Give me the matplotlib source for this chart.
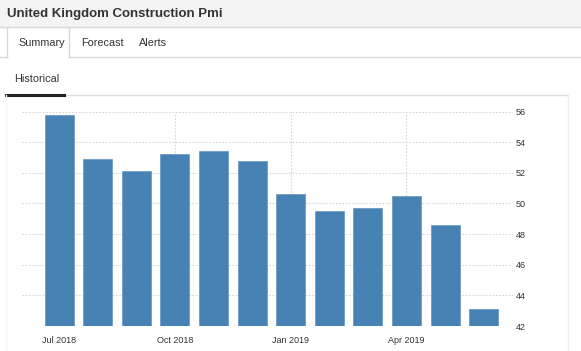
import matplotlib.pyplot as plt
from matplotlib.patches import Rectangle
from matplotlib.lines import Line2D

plt.rcParams['font.family'] = ['Liberation Sans', 'DejaVu Sans']

# UK construction PMI, Jul 2018 - Jun 2019
months = ['Jul 2018', 'Aug 2018', 'Sep 2018', 'Oct 2018', 'Nov 2018', 'Dec 2018',
          'Jan 2019', 'Feb 2019', 'Mar 2019', 'Apr 2019', 'May 2019', 'Jun 2019']
pmi = [55.8, 52.9, 52.1, 53.2, 53.4, 52.8, 50.6, 49.5, 49.7, 50.5, 48.6, 43.1]
yticks = [42, 44, 46, 48, 50, 52, 54, 56]
xlabel_idx = [0, 3, 6, 9]

W, H = 581, 351
fig = plt.figure(figsize=(W / 100, H / 100), dpi=100)

def px(x, y):
    return x / W, 1 - y / H

def hline(x0, x1, y, color, lw=1.0):
    fig.add_artist(Line2D([x0 / W, x1 / W], [1 - y / H, 1 - y / H], color=color, lw=lw))

def vline(x, y0, y1, color, lw=1.0):
    fig.add_artist(Line2D([x / W, x / W], [1 - y0 / H, 1 - y1 / H], color=color, lw=lw))

# header bar
fig.add_artist(Rectangle(px(0, 27), 1, 27 / H, color='#f4f4f4', zorder=0))
hline(0, W, 27, '#d8d8d8')
fig.text(*px(7, 13.5), 'United Kingdom Construction Pmi', fontsize=9.5, fontweight='bold',
         color='#333333', va='center', ha='left')

# tabs
hline(0, 7, 57, '#d8d8d8')
hline(69, W, 57, '#d8d8d8')
vline(7, 28, 57, '#d8d8d8')
vline(69, 28, 57, '#d8d8d8')
fig.text(*px(18, 43), 'Summary', fontsize=7.8, color='#333333', va='center')
fig.text(*px(81, 43), 'Forecast', fontsize=7.8, color='#333333', va='center')
fig.text(*px(139, 43), 'Alerts', fontsize=7.8, color='#333333', va='center')

# historical sub-tab
fig.text(*px(14, 79), 'Historical', fontsize=7.8, color='#333333', va='center')
hline(64, 568, 95, '#dddddd')
hline(6, 64, 95, '#222222', lw=2.2)
vline(568, 95, H, '#eeeeee')
vline(6, 95, H, '#f6f6f6')

# chart
ax = fig.add_axes([22 / W, 1 - 326 / H, (513 - 22) / W, (326 - 111.5) / H])
x = list(range(len(months)))
ax.bar(x, pmi, width=0.75, color='#4682b4', edgecolor='#6f9cc6', linewidth=0.6, zorder=2)
ax.set_ylim(42, 56)
ax.set_xlim(-0.96, 11.76)
ax.set_yticks(yticks)
ax.set_xticks(xlabel_idx)
ax.set_xticklabels([months[i] for i in xlabel_idx])
ax.yaxis.tick_right()
ax.tick_params(axis='both', length=0, labelsize=6.5, colors='#333333')
ax.tick_params(axis='y', pad=2)
ax.tick_params(axis='x', pad=7)
ax.grid(True, color='#d6d6d6', linestyle=(0, (1.5, 1.5)), linewidth=0.8, zorder=0)
for s in ax.spines.values():
    s.set_visible(False)

fig.savefig('out.png', dpi=100)
